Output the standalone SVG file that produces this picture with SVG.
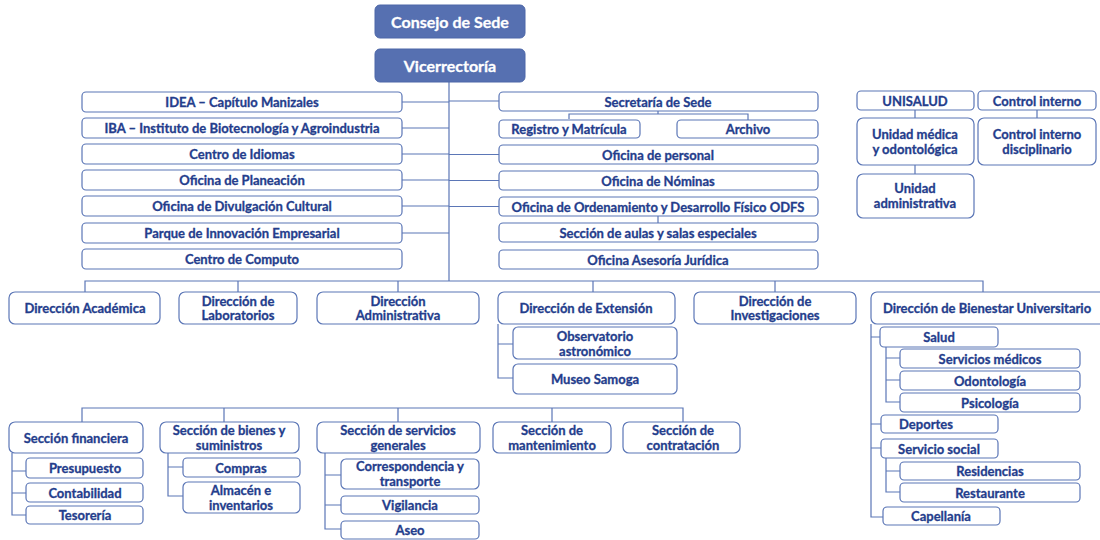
<svg xmlns="http://www.w3.org/2000/svg" width="1100" height="540" viewBox="0 0 1100 540">
<style>
.b{fill:#ffffff;stroke:#5b76b6;stroke-width:1.2}
.hd{fill:#5670b1;stroke:#4d67a8;stroke-width:1}
.t{font-family:Lato,"Open Sans","Liberation Sans",sans-serif;font-weight:700;font-size:13px;fill:#243d8c;stroke:#243d8c;stroke-width:0.3;text-anchor:middle;dominant-baseline:central}
.th{font-family:Lato,"Open Sans","Liberation Sans",sans-serif;font-weight:700;font-size:16px;fill:#ffffff;stroke:#ffffff;stroke-width:0.3;text-anchor:middle;dominant-baseline:central}
.c{fill:none;stroke:#5b76b6;stroke-width:1.2}
</style>
<rect x="0" y="0" width="1100" height="540" fill="#ffffff"/>
<g id="connectors" class="c">
<path d="M449 82V281"/>
<path d="M402 102H449M402 128H449M402 154H449M402 180H449M402 206H449M402 233H449"/>
<path d="M449 101H499M449 154.5H499M449 180.5H499M449 206.5H499"/>
<path d="M658 111V114M569 119V114H748V120"/>
<path d="M658 216V223"/>
<path d="M85 292V281H983V292M238 281V292M398 281V292M593 281V292M775 281V292"/>
<path d="M915 110V118M915 165V174M1037 110V118"/>
<path d="M498 324V378H513M498 344H513"/>
<path d="M871 324V517H883M871 337H880M871 424H881M871 448H881"/>
<path d="M886 347V402H900M886 358H900M886 380H900"/>
<path d="M886 458V492H900M886 471H900"/>
<path d="M82 422V408H683V422M224 408V422M398 408V422M552 408V422"/>
<path d="M12 453V515H26M12 471H26M12 493H26"/>
<path d="M168 453V496H183M168 467H183"/>
<path d="M325 453V529H341M325 475H341M325 505H341"/>
</g>
<g id="consejo"><rect class="hd" x="375" y="5" width="150" height="33" rx="5"/><text class="th" x="450" y="21.5">Consejo de Sede</text></g>
<g id="vicerrectoria"><rect class="hd" x="375" y="49" width="150" height="33" rx="5"/><text class="th" x="450" y="65.5">Vicerrectoría</text></g>

<g id="idea"><rect class="b" x="82" y="92" width="320" height="20" rx="4"/><text class="t" x="242" y="102">IDEA – Capítulo Manizales</text></g>
<g id="iba"><rect class="b" x="82" y="118" width="320" height="20" rx="4"/><text class="t" x="242" y="128">IBA – Instituto de Biotecnología y Agroindustria</text></g>
<g id="idiomas"><rect class="b" x="82" y="144" width="320" height="20" rx="4"/><text class="t" x="242" y="154">Centro de Idiomas</text></g>
<g id="planeacion"><rect class="b" x="82" y="170" width="320" height="20" rx="4"/><text class="t" x="242" y="180">Oficina de Planeación</text></g>
<g id="divulgacion"><rect class="b" x="82" y="196" width="320" height="20" rx="4"/><text class="t" x="242" y="206">Oficina de Divulgación Cultural</text></g>
<g id="parque"><rect class="b" x="82" y="223" width="320" height="20" rx="4"/><text class="t" x="242" y="233">Parque de Innovación Empresarial</text></g>
<g id="computo"><rect class="b" x="82" y="249" width="320" height="20" rx="4"/><text class="t" x="242" y="259">Centro de Computo</text></g>

<g id="secretaria"><rect class="b" x="499" y="92" width="319" height="19" rx="4"/><text class="t" x="658" y="101.5">Secretaría de Sede</text></g>
<g id="registro"><rect class="b" x="499" y="120" width="141" height="18" rx="4"/><text class="t" x="569" y="129">Registro y Matrícula</text></g>
<g id="archivo"><rect class="b" x="677" y="120" width="141" height="18" rx="4"/><text class="t" x="748" y="129">Archivo</text></g>
<g id="personal"><rect class="b" x="499" y="145" width="319" height="19" rx="4"/><text class="t" x="658" y="154.5">Oficina de personal</text></g>
<g id="nominas"><rect class="b" x="499" y="171" width="319" height="19" rx="4"/><text class="t" x="658" y="180.5">Oficina de Nóminas</text></g>
<g id="odfs"><rect class="b" x="499" y="197" width="319" height="19" rx="4"/><text class="t" x="658" y="206.5">Oficina de Ordenamiento y Desarrollo Físico ODFS</text></g>
<g id="aulas"><rect class="b" x="499" y="223" width="319" height="19" rx="4"/><text class="t" x="658" y="232.5">Sección de aulas y salas especiales</text></g>
<g id="juridica"><rect class="b" x="499" y="250" width="319" height="19" rx="4"/><text class="t" x="658" y="259.5">Oficina Asesoría Jurídica</text></g>

<g id="unisalud"><rect class="b" x="857" y="91" width="117" height="19" rx="4"/><text class="t" x="915" y="100.5">UNISALUD</text></g>
<g id="control"><rect class="b" x="978" y="91" width="118" height="19" rx="4"/><text class="t" x="1037" y="100.5">Control interno</text></g>
<g id="unidadmedica"><rect class="b" x="857" y="118" width="117" height="47" rx="6"/><text class="t" x="915" y="134">Unidad médica</text><text class="t" x="915" y="149">y odontológica</text></g>
<g id="disciplinario"><rect class="b" x="978" y="118" width="118" height="47" rx="6"/><text class="t" x="1037" y="134">Control interno</text><text class="t" x="1037" y="149">disciplinario</text></g>
<g id="unidadadmin"><rect class="b" x="857" y="174" width="117" height="44" rx="6"/><text class="t" x="915" y="188">Unidad</text><text class="t" x="915" y="203">administrativa</text></g>

<g id="academica"><rect class="b" x="9" y="292" width="151" height="32" rx="6"/><text class="t" x="85" y="308">Dirección Académica</text></g>
<g id="laboratorios"><rect class="b" x="179" y="292" width="118" height="32" rx="6"/><text class="t" x="238" y="300.5">Dirección de</text><text class="t" x="238" y="315">Laboratorios</text></g>
<g id="administrativa"><rect class="b" x="317" y="292" width="162" height="32" rx="6"/><text class="t" x="398" y="300.5">Dirección</text><text class="t" x="398" y="315">Administrativa</text></g>
<g id="extension"><rect class="b" x="498" y="292" width="177" height="32" rx="6"/><text class="t" x="586" y="308">Dirección de Extensión</text></g>
<g id="investigaciones"><rect class="b" x="694" y="292" width="162" height="32" rx="6"/><text class="t" x="775" y="300.5">Dirección de</text><text class="t" x="775" y="315">Investigaciones</text></g>
<g id="bienestar"><rect class="b" x="871" y="292" width="245" height="32" rx="6"/><text class="t" x="987" y="308">Dirección de Bienestar Universitario</text></g>

<g id="observatorio"><rect class="b" x="513" y="327" width="164" height="32" rx="5"/><text class="t" x="595" y="336">Observatorio</text><text class="t" x="595" y="351">astronómico</text></g>
<g id="museo"><rect class="b" x="513" y="364" width="164" height="30" rx="5"/><text class="t" x="595" y="379">Museo Samoga</text></g>

<g id="salud"><rect class="b" x="880" y="327" width="118" height="20" rx="4"/><text class="t" x="939" y="337">Salud</text></g>
<g id="servmedicos"><rect class="b" x="900" y="349" width="180" height="19" rx="4"/><text class="t" x="990" y="358.5">Servicios médicos</text></g>
<g id="odontologia"><rect class="b" x="900" y="371" width="180" height="19" rx="4"/><text class="t" x="990" y="380.5">Odontología</text></g>
<g id="psicologia"><rect class="b" x="900" y="393" width="180" height="19" rx="4"/><text class="t" x="990" y="402.5">Psicología</text></g>
<g id="deportes"><rect class="b" x="881" y="415" width="117" height="18" rx="4"/><text class="t" x="926" y="424">Deportes</text></g>
<g id="servsocial"><rect class="b" x="881" y="439" width="117" height="19" rx="4"/><text class="t" x="939" y="448.5">Servicio social</text></g>
<g id="residencias"><rect class="b" x="900" y="462" width="180" height="18" rx="4"/><text class="t" x="990" y="471">Residencias</text></g>
<g id="restaurante"><rect class="b" x="900" y="483" width="180" height="19" rx="4"/><text class="t" x="990" y="492.5">Restaurante</text></g>
<g id="capellania"><rect class="b" x="883" y="507" width="117" height="18" rx="4"/><text class="t" x="941" y="516">Capellanía</text></g>

<g id="financiera"><rect class="b" x="9" y="422" width="134" height="31" rx="6"/><text class="t" x="76" y="437.5">Sección financiera</text></g>
<g id="bienes"><rect class="b" x="160" y="422" width="139" height="31" rx="6"/><text class="t" x="229" y="429.5">Sección de bienes y</text><text class="t" x="229" y="445">suministros</text></g>
<g id="servgenerales"><rect class="b" x="317" y="422" width="163" height="31" rx="6"/><text class="t" x="398" y="429.5">Sección de servicios</text><text class="t" x="398" y="445">generales</text></g>
<g id="mantenimiento"><rect class="b" x="493" y="422" width="118" height="31" rx="6"/><text class="t" x="552" y="429.5">Sección de</text><text class="t" x="552" y="445">mantenimiento</text></g>
<g id="contratacion"><rect class="b" x="623" y="422" width="117" height="31" rx="6"/><text class="t" x="683" y="429.5">Sección de</text><text class="t" x="683" y="445">contratación</text></g>

<g id="presupuesto"><rect class="b" x="26" y="458" width="117" height="20" rx="4"/><text class="t" x="85" y="468">Presupuesto</text></g>
<g id="contabilidad"><rect class="b" x="26" y="483" width="117" height="19" rx="4"/><text class="t" x="85" y="492.5">Contabilidad</text></g>
<g id="tesoreria"><rect class="b" x="26" y="506" width="117" height="18" rx="4"/><text class="t" x="85" y="515">Tesorería</text></g>
<g id="compras"><rect class="b" x="183" y="458" width="117" height="19" rx="4"/><text class="t" x="241" y="467.5">Compras</text></g>
<g id="almacen"><rect class="b" x="183" y="482" width="117" height="31" rx="5"/><text class="t" x="241" y="489.5">Almacén e</text><text class="t" x="241" y="504.5">inventarios</text></g>
<g id="correspondencia"><rect class="b" x="341" y="459" width="138" height="30" rx="5"/><text class="t" x="410" y="466">Correspondencia y</text><text class="t" x="410" y="481">transporte</text></g>
<g id="vigilancia"><rect class="b" x="341" y="496" width="138" height="18" rx="4"/><text class="t" x="410" y="505">Vigilancia</text></g>
<g id="aseo"><rect class="b" x="341" y="521" width="138" height="18" rx="4"/><text class="t" x="410" y="530">Aseo</text></g>
</svg>
